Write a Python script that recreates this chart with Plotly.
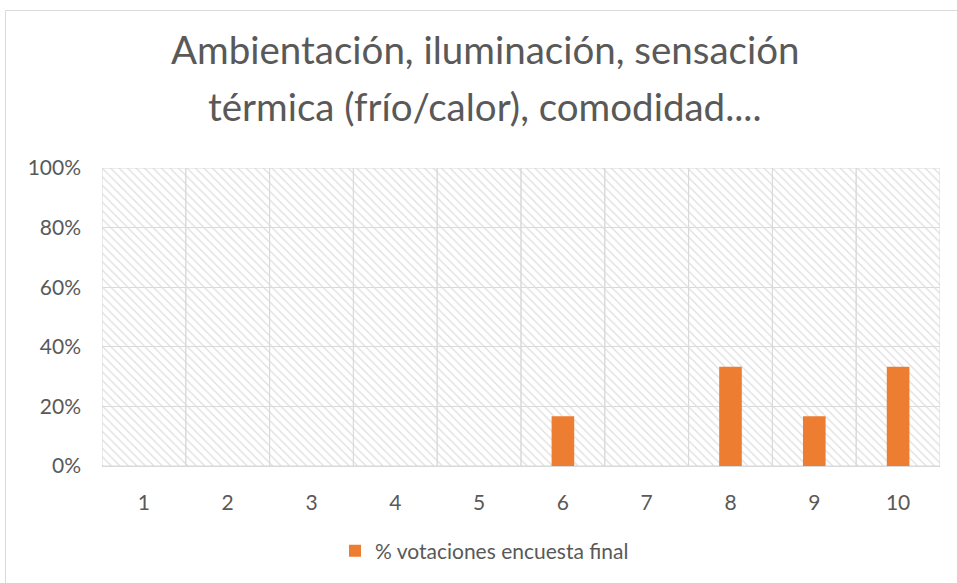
import plotly.graph_objects as go

# Survey scores (1-10) and share of votes in the final survey
categories = [1, 2, 3, 4, 5, 6, 7, 8, 9, 10]
vote_share = [0, 0, 0, 0, 0, 1 / 6, 0, 1 / 3, 1 / 6, 1 / 3]
series_name = "% votaciones encuesta final"
title_lines = ["Ambientación, iluminación, sensación", "térmica (frío/calor), comodidad...."]

ORANGE = "#ED7D31"
TEXT = "#595959"
GRID = "#D9D9D9"
FONT = "Lato"

W, H = 957, 583
L, R, T, B = 102, 940, 168, 466  # plot area in pixels

def px_x(x):
    return (x - L) / (R - L)

def px_y(y):
    return (B - y) / (B - T)

fig = go.Figure()

# hatched plot-area panel, one cell per category
fig.add_trace(go.Bar(
    x=categories,
    y=[1.0] * len(categories),
    width=1.0,
    marker=dict(
        color=GRID,
        line=dict(color=GRID, width=1),
        pattern=dict(shape="\\", size=6, solidity=0.2, fgcolor="#DDDDDD", fillmode="replace"),
    ),
    showlegend=False,
    hoverinfo="skip",
))

fig.add_trace(go.Bar(
    x=categories,
    y=vote_share,
    width=0.27,
    name=series_name,
    marker=dict(color=ORANGE, line=dict(width=0)),
))

# title, two lines
for line, py in zip(title_lines, [49, 106]):
    fig.add_annotation(
        text=line, xref="paper", yref="paper",
        x=px_x(485), y=px_y(py), xanchor="center", yanchor="middle",
        showarrow=False, font=dict(family=FONT, size=38.5, color=TEXT),
    )

# chart border
fig.add_shape(
    type="rect", xref="paper", yref="paper",
    x0=px_x(5.5), x1=px_x(975), y0=px_y(610), y1=px_y(10.5),
    line=dict(color=GRID, width=1), fillcolor="rgba(0,0,0,0)", layer="below",
)

fig.update_layout(
    width=W, height=H,
    margin=dict(l=L, r=W - R, t=T, b=H - B),
    paper_bgcolor="white", plot_bgcolor="white",
    barmode="overlay",
    font=dict(family=FONT, color=TEXT, size=21),
    showlegend=True,
    legend=dict(
        orientation="h", x=px_x(335), xanchor="left", y=px_y(551), yanchor="middle",
        font=dict(family=FONT, size=21, color=TEXT), bgcolor="rgba(0,0,0,0)",
        itemwidth=30,
    ),
    xaxis=dict(
        range=[0.5, 10.5], tickmode="array", tickvals=categories,
        ticktext=[str(c) for c in categories],
        showgrid=False, zeroline=False, showline=True, linecolor=GRID, linewidth=1,
        ticks="", ticklabelstandoff=18, tickfont=dict(size=21, color=TEXT),
    ),
    yaxis=dict(
        range=[0, 1], dtick=0.2, tickformat=".0%",
        showgrid=True, gridcolor=GRID, gridwidth=1, zeroline=False, showline=False,
        ticks="", ticklabelstandoff=20, tickfont=dict(size=21, color=TEXT),
    ),
)

fig.write_html("out.html")
